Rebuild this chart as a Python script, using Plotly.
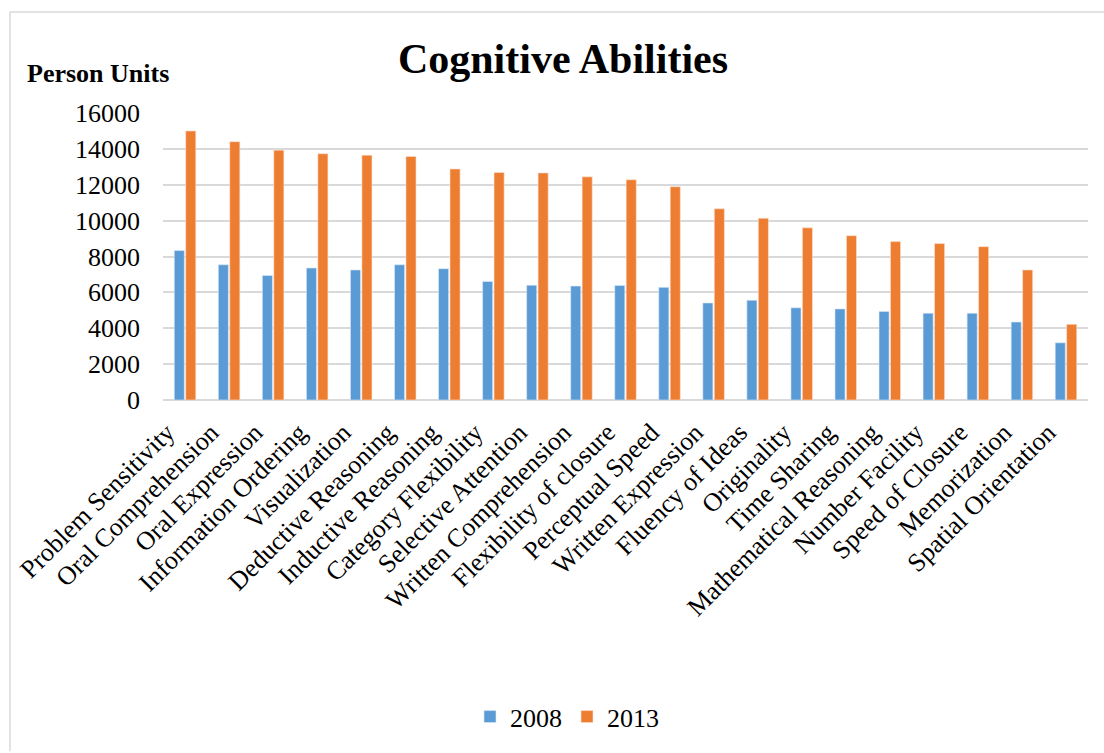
import plotly.graph_objects as go

# Cognitive ability categories (x axis)
abilities = [
    "Problem Sensitivity", "Oral Comprehension", "Oral Expression",
    "Information Ordering", "Visualization", "Deductive Reasoning",
    "Inductive Reasoning", "Category Flexibility", "Selective Attention",
    "Written Comprehension", "Flexibility of closure", "Perceptual Speed",
    "Written Expression", "Fluency of Ideas", "Originality", "Time Sharing",
    "Mathematical Reasoning", "Number Facility", "Speed of Closure",
    "Memorization", "Spatial Orientation",
]

# Person units per year
units_2008 = [8330, 7540, 6940, 7360, 7250, 7540, 7320, 6610, 6400, 6350,
              6390, 6280, 5410, 5560, 5140, 5080, 4940, 4840, 4840, 4350, 3190]
units_2013 = [15000, 14400, 13930, 13730, 13650, 13580, 12880, 12680, 12660, 12440,
              12280, 11890, 10660, 10130, 9600, 9160, 8830, 8720, 8550, 7250, 4220]

y_ticks = [0, 2000, 4000, 6000, 8000, 10000, 12000, 14000, 16000]
y_tick_labels = [str(v) for v in y_ticks]

FONT = "Liberation Serif, Times New Roman, serif"
W, H = 1104, 753
ML, MR, MT, MB = 163, 16, 113, 350
PW, PH = W - ML - MR, H - MT - MB


def px_x(x):
    return (x - ML) / PW


def px_y(y):
    return (H - MB - y) / PH


fig = go.Figure()
fig.add_trace(go.Bar(name="2008", x=abilities, y=units_2008,
                     marker=dict(color="#5B9BD5", line=dict(color="#DDEBF7", width=0.6))))
fig.add_trace(go.Bar(name="2013", x=abilities, y=units_2013,
                     marker=dict(color="#ED7D31", line=dict(color="#FBE2D5", width=0.6))))

fig.update_layout(
    width=W, height=H,
    margin=dict(l=ML, r=MR, t=MT, b=MB, pad=0),
    paper_bgcolor="white", plot_bgcolor="white",
    font=dict(family=FONT, color="black", size=25),
    barmode="group", bargap=0.48, bargroupgap=0.12,
    title=dict(text="<b>Cognitive Abilities</b>", x=563 / W, xanchor="center",
               y=1 - 58 / H, yanchor="middle", xref="container", yref="container",
               font=dict(family=FONT, size=42, color="black")),
    showlegend=True,
    legend=dict(orientation="h", x=px_x(567), xanchor="center", y=px_y(723), yanchor="middle",
                font=dict(family=FONT, size=26), itemwidth=30, traceorder="normal"),
    xaxis=dict(tickangle=-45, showgrid=False, showline=False, ticks="",
               tickfont=dict(family=FONT, size=26), ticklabelstandoff=11,
               ticklabelshift=-18),
    yaxis=dict(range=[0, 16000], tickvals=y_ticks, ticktext=y_tick_labels,
               showgrid=True, gridcolor="#D9D9D9",
               gridwidth=1.5, zeroline=True, zerolinecolor="#D9D9D9", zerolinewidth=1.5,
               ticks="", tickfont=dict(family=FONT, size=26), ticklabelstandoff=22,
               showline=False),
    annotations=[dict(text="<b>Person Units</b>", xref="paper", yref="paper",
                      x=px_x(25), y=px_y(73), xanchor="left", yanchor="middle",
                      showarrow=False, font=dict(family=FONT, size=26, color="black"))],
    shapes=[
        dict(type="line", xref="paper", yref="paper", x0=px_x(10), x1=px_x(W + 5),
             y0=px_y(11), y1=px_y(11), line=dict(color="#D9D9D9", width=1.5)),
        dict(type="line", xref="paper", yref="paper", x0=px_x(10), x1=px_x(10),
             y0=px_y(11), y1=px_y(H + 5), line=dict(color="#D9D9D9", width=1.5)),
    ],
)

fig.write_html("out.html")
